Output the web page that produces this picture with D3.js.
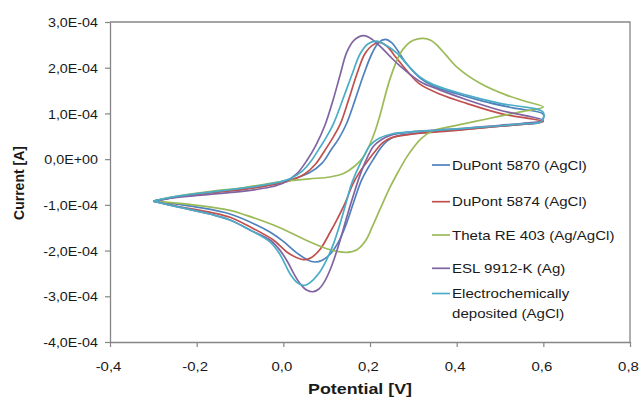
<!DOCTYPE html>
<html>
<head>
<meta charset="utf-8">
<script src="https://cdn.jsdelivr.net/npm/d3@7/dist/d3.min.js"></script>
<style>
  body { margin: 0; background: #fff; }
  text { font-family: "Liberation Sans", Arial, sans-serif; fill: #1a1a1a; }
</style>
</head>
<body>
<svg id="chart" width="642" height="401"></svg>
<script>
// Axis ticks (current in units of 1E-04 A)
const xTicks = [-0.4, -0.2, 0.0, 0.2, 0.4, 0.6, 0.8];
const yTicks = [3, 2, 1, 0, -1, -2, -3, -4];

const seriesNames = [
  "DuPont 5870 (AgCl)",
  "DuPont 5874 (AgCl)",
  "Theta RE 403 (Ag/AgCl)",
  "ESL 9912-K (Ag)",
  "Electrochemically deposited (AgCl)"
];
const seriesColors = ["#4F81BD", "#C0504D", "#9BBB59", "#8064A2", "#4BACC6"];

// Cyclic voltammograms: [potential V, current ×1E-04 A], forward sweep then reverse sweep
const dupont5870 = [
  [-0.3,-0.92],[-0.25,-0.83],[-0.17,-0.73],[-0.09,-0.65],[-0.03,-0.56],[0.015,-0.46],[0.06,-0.3],[0.09,-0.08],
  [0.11,0.2],[0.128,0.45],[0.146,0.78],[0.165,1.28],[0.185,1.84],[0.204,2.3],[0.22,2.55],[0.235,2.62],[0.25,2.55],
  [0.265,2.36],[0.285,2.08],[0.315,1.78],[0.346,1.6],[0.4,1.43],[0.46,1.27],[0.53,1.12],[0.6,0.98],
  [0.595,0.82],[0.55,0.76],[0.5,0.72],[0.4,0.64],[0.3,0.56],[0.26,0.5],[0.24,0.4],[0.225,0.25],[0.21,0.03],
  [0.195,-0.2],[0.18,-0.47],[0.163,-0.92],[0.146,-1.4],[0.128,-1.8],[0.108,-2.08],[0.09,-2.21],[0.073,-2.25],
  [0.055,-2.2],[0.031,-2.05],[0.0,-1.8],[-0.03,-1.6],[-0.062,-1.44],[-0.123,-1.2],[-0.2,-1.05],[-0.3,-0.92]
];
const dupont5874 = [
  [-0.3,-0.92],[-0.25,-0.83],[-0.17,-0.74],[-0.09,-0.66],[-0.03,-0.57],[0.015,-0.47],[0.05,-0.32],[0.075,-0.1],
  [0.095,0.18],[0.113,0.45],[0.131,0.76],[0.15,1.28],[0.169,1.84],[0.188,2.3],[0.207,2.5],[0.225,2.55],[0.24,2.46],
  [0.262,2.2],[0.29,1.88],[0.315,1.64],[0.362,1.42],[0.423,1.22],[0.5,1.0],[0.6,0.82],
  [0.55,0.76],[0.5,0.72],[0.4,0.63],[0.3,0.55],[0.25,0.47],[0.228,0.35],[0.21,0.15],[0.19,-0.1],[0.175,-0.3],
  [0.16,-0.55],[0.143,-0.95],[0.125,-1.3],[0.108,-1.6],[0.085,-1.97],[0.065,-2.15],[0.05,-2.2],[0.03,-2.15],
  [0.008,-2.03],[-0.023,-1.77],[-0.077,-1.48],[-0.123,-1.27],[-0.17,-1.16],[-0.246,-1.03],[-0.3,-0.92]
];
const thetaRE403 = [
  [-0.3,-0.92],[-0.25,-0.82],[-0.17,-0.71],[-0.09,-0.62],[-0.03,-0.53],[0.015,-0.47],[0.06,-0.43],[0.108,-0.39],
  [0.14,-0.31],[0.165,-0.15],[0.185,0.05],[0.2,0.33],[0.212,0.62],[0.223,0.96],[0.246,1.75],[0.269,2.3],[0.285,2.5],
  [0.3,2.6],[0.323,2.64],[0.34,2.6],[0.354,2.5],[0.375,2.28],[0.4,2.02],[0.454,1.66],[0.515,1.4],[0.56,1.26],[0.6,1.14],
  [0.55,1.04],[0.5,0.94],[0.44,0.82],[0.385,0.71],[0.345,0.62],[0.318,0.45],[0.3,0.25],[0.285,0.05],[0.262,-0.33],
  [0.246,-0.62],[0.223,-1.1],[0.208,-1.42],[0.19,-1.78],[0.17,-1.98],[0.146,-2.04],[0.125,-2.02],[0.1,-1.96],
  [0.054,-1.78],[-0.008,-1.5],[-0.085,-1.23],[-0.123,-1.12],[-0.208,-1.0],[-0.3,-0.92]
];
const esl9912K = [
  [-0.3,-0.92],[-0.25,-0.84],[-0.17,-0.77],[-0.09,-0.7],[-0.03,-0.61],[0.0,-0.52],[0.03,-0.33],[0.055,-0.02],
  [0.075,0.3],[0.096,0.74],[0.115,1.3],[0.131,1.84],[0.146,2.33],[0.163,2.6],[0.185,2.7],[0.205,2.62],[0.223,2.47],
  [0.245,2.26],[0.269,2.04],[0.315,1.7],[0.362,1.51],[0.423,1.3],[0.5,1.07],[0.6,0.85],
  [0.55,0.78],[0.5,0.74],[0.4,0.66],[0.3,0.6],[0.25,0.53],[0.225,0.42],[0.208,0.28],[0.192,0.0],[0.177,-0.35],
  [0.163,-0.75],[0.15,-1.15],[0.137,-1.58],[0.122,-2.05],[0.108,-2.42],[0.095,-2.68],[0.082,-2.84],[0.069,-2.9],
  [0.055,-2.87],[0.04,-2.74],[0.025,-2.52],[0.01,-2.25],[-0.008,-1.99],[-0.031,-1.77],[-0.077,-1.55],[-0.123,-1.33],
  [-0.17,-1.2],[-0.246,-1.04],[-0.3,-0.92]
];
const electroDeposited = [
  [-0.3,-0.92],[-0.25,-0.82],[-0.17,-0.72],[-0.09,-0.63],[-0.03,-0.54],[0.015,-0.43],[0.045,-0.25],[0.065,-0.03],
  [0.082,0.22],[0.098,0.46],[0.115,0.76],[0.137,1.3],[0.158,1.84],[0.177,2.3],[0.195,2.52],[0.215,2.58],[0.235,2.5],
  [0.262,2.32],[0.285,2.08],[0.315,1.8],[0.346,1.63],[0.423,1.4],[0.5,1.22],[0.6,1.02],
  [0.595,0.82],[0.55,0.77],[0.5,0.73],[0.4,0.66],[0.3,0.6],[0.25,0.55],[0.22,0.45],[0.2,0.3],[0.185,0.05],
  [0.17,-0.25],[0.157,-0.55],[0.145,-0.95],[0.132,-1.38],[0.117,-1.82],[0.1,-2.2],[0.085,-2.46],[0.069,-2.64],
  [0.055,-2.74],[0.046,-2.76],[0.032,-2.7],[0.015,-2.5],[-0.008,-2.08],[-0.031,-1.81],[-0.077,-1.55],[-0.123,-1.33],
  [-0.17,-1.2],[-0.246,-1.04],[-0.3,-0.92]
];

const seriesData = [dupont5870, dupont5874, thetaRE403, esl9912K, electroDeposited];

// Layout
const plot = { left: 110, right: 630, top: 22, bottom: 342 };
const axisGrey = "#868686";

const svg = d3.select("#chart");
const x = d3.scaleLinear().domain([-0.4, 0.8]).range([plot.left, plot.right]);
const y = d3.scaleLinear().domain([-4, 3]).range([plot.bottom, plot.top]);

const fmtX = v => v.toFixed(1).replace(".", ",");
const fmtY = v => v === 0 ? "0,0E+00" : (v < 0 ? "-" : "") + Math.abs(v).toFixed(1).replace(".", ",") + "E-04";

// Plot area frame (top and right edges)
svg.append("path")
  .attr("d", `M${plot.left},${plot.top}H${plot.right}V${plot.bottom}`)
  .attr("fill", "none").attr("stroke", axisGrey).attr("stroke-width", 1.3);

// Y axis
const gy = svg.append("g")
  .attr("transform", `translate(${plot.left},0)`)
  .call(d3.axisLeft(y).tickValues(yTicks).tickFormat(fmtY).tickSize(5).tickSizeOuter(0));
gy.select(".domain").attr("stroke", axisGrey).attr("stroke-width", 1.3);
gy.selectAll(".tick line").attr("stroke", axisGrey).attr("stroke-width", 1.2);
gy.selectAll(".tick text")
  .attr("x", 0).attr("dy", "0.36em")
  .attr("transform", "translate(-12,0) scale(1.1,1)")
  .attr("font-size", 13).attr("font-family", null).attr("fill", "#1a1a1a");

// X axis
const gx = svg.append("g")
  .attr("transform", `translate(0,${plot.bottom})`)
  .call(d3.axisBottom(x).tickValues(xTicks).tickFormat(fmtX).tickSize(5).tickSizeOuter(0));
gx.select(".domain").attr("stroke", axisGrey).attr("stroke-width", 1.3);
gx.selectAll(".tick line").attr("stroke", axisGrey).attr("stroke-width", 1.2);
gx.selectAll(".tick text")
  .attr("y", 0).attr("dy", null)
  .attr("transform", "translate(-2,29) scale(1.15,1)")
  .attr("font-size", 13).attr("font-family", null).attr("fill", "#1a1a1a");

// Axis titles
svg.append("text")
  .attr("transform", "translate(360,394) scale(1.19,1)")
  .attr("text-anchor", "middle")
  .attr("font-size", 15).attr("font-weight", "bold")
  .text("Potential [V]");
svg.append("text")
  .attr("transform", "translate(24,183) rotate(-90)")
  .attr("text-anchor", "middle")
  .attr("font-size", 14).attr("font-weight", "bold")
  .text("Current [A]");

// Curves
const line = d3.line()
  .x(d => x(d[0]))
  .y(d => y(d[1]))
  .curve(d3.curveCatmullRom.alpha(0.5));

svg.append("g").selectAll("path")
  .data(seriesData)
  .join("path")
  .attr("d", line)
  .attr("fill", "none")
  .attr("stroke", (d, i) => seriesColors[i])
  .attr("stroke-width", 1.7)
  .attr("stroke-linejoin", "round");

// Legend
const legendRows = [165, 201.7, 235, 268.3, 293.5];
const legend = svg.append("g");
seriesNames.forEach((name, i) => {
  const g = legend.append("g").attr("transform", `translate(432,${legendRows[i]})`);
  g.append("line").attr("x1", 0).attr("x2", 18).attr("y1", 0).attr("y2", 0)
    .attr("stroke", seriesColors[i]).attr("stroke-width", 1.7);
  const lines = i === 4 ? ["Electrochemically", "deposited (AgCl)"] : [name];
  lines.forEach((t, k) => {
    g.append("text")
      .attr("transform", `translate(20,${k * 19.5}) scale(1.16,1)`)
      .attr("dy", "0.36em")
      .attr("font-size", 13)
      .text(t);
  });
});
</script>
</body>
</html>
